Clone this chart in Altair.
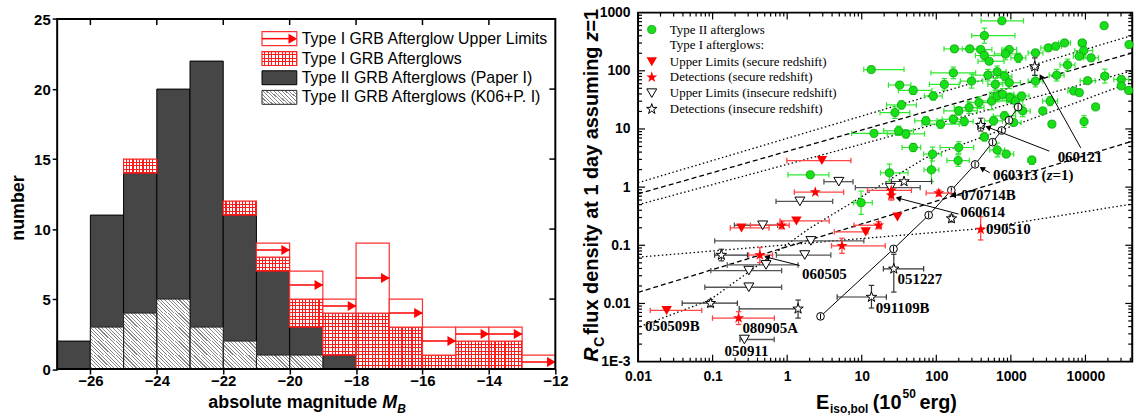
import altair as alt
import pandas as pd

SANS = "Liberation Sans"
SERIF = "Liberation Serif"
RED = "#ff0000"

# ======================= LEFT PANEL DATA =======================
bin_lo = [-27, -26, -25, -24, -23, -22, -21, -20, -19, -18, -17, -16, -15, -14, -13]
paper1_counts = [2, 11, 14, 20, 22, 11, 7, 3, 1, 0, 0, 0, 0, 0, 0]
k06_counts = [0, 3, 4, 5, 3, 2, 1, 1, 0, 0, 0, 0, 0, 0, 0]
type1_counts = [0, 0, 1, 0, 0, 1, 1, 2, 3, 4, 3, 1, 2, 2, 0]
type1_ul_counts = [0, 0, 0, 0, 0, 0, 1, 2, 1, 5, 2, 2, 1, 1, 1]
left_xdomain = [-27, -12]
left_ydomain = [0, 25]
left_xticks = [-26, -24, -22, -20, -18, -16, -14, -12]
left_yticks = [0, 5, 10, 15, 20, 25]
left_legend = ["Type I GRB Afterglow Upper Limits", "Type I GRB Afterglows",
               "Type II GRB Afterglows (Paper I)", "Type II GRB Afterglows (K06+P. I)"]

# ======================= RIGHT PANEL DATA =======================
XMAX = 42400
# Type II afterglows (green): x, y, left/right x-error (dex), y-error (dex)
g_x = [758, 441, 17800, 13.4, 175, 281, 394, 441, 511, 949, 849, 1260, 2140, 3170, 3980, 5250,
       9050, 9480, 11900, 8280, 38400, 18200, 30200, 30200, 38000, 2140, 4110, 5750, 10700, 169,
       297, 493, 655, 820, 949, 618, 128, 32.2, 49, 91, 34.1, 27.9, 200, 275, 373, 552, 655, 775,
       971, 1150, 1390, 1440, 3360, 6980, 8280, 13700, 2680, 72.6, 114, 169, 237, 14.6, 31.2, 39.1,
       585, 1090, 3550, 9580, 441, 820, 49, 200, 89, 655, 867, 1910, 196, 23.5, 86, 2.04, 9.8]
g_y = [724, 402, 596, 105, 238, 238, 232, 183, 146, 232, 195, 167, 203, 247, 264, 301,
       301, 222, 167, 178, 282, 81, 71, 55, 46, 66.5, 84, 126, 67.5, 92,
       66.5, 84, 96, 81, 62.4, 58.4, 58.4, 56.9, 46, 36.9, 25.9, 19.1, 20.4, 23.3, 28.4, 30.2, 36.9, 39.4,
       34.5, 30.2, 36.9, 20.4, 30.2, 44.9, 42.1, 23.9, 20.4, 13.8, 12.1, 14.7, 13.4, 8.4, 9.3, 8.2,
       13.8, 12.9, 12.1, 13.4, 7.3, 16.8, 4.8, 4.8, 3.7, 4.35, 3.7, 2.9, 2.86, 1.76, 1.98, 1.63, 0.54]
g_xl = [.28, .17, 0, .1, .14, .1, .15, .12, .15, .1, .15, .1, .1, .1, .08, .08,
        .05, .12, .1, .08, 0, .05, .1, 0, 0, .1, .1, .1, .1, .3,
        .15, .2, .12, .1, .15, .1, .2, .15, .2, .12, .2, .2, .2, .2, .15, .2, .1, .15,
        .15, .1, .1, .1, .1, .08, 0, 0, 0, .15, .25, .15, .12, .3, .2, .25,
        .12, .1, 0, 0, .05, .15, .15, .25, .12, .1, .1, .05, .15, .12, .1, .3, .1]
g_xr = [.29, .41, 0, .44, .16, .1, .15, .25, .2, .1, .15, .1, .1, .12, .08, .08,
        .05, .12, .1, .08, 0, .05, .1, 0, 0, .1, .1, .1, .1, .3,
        .15, .2, .12, .1, .15, .1, .2, .15, .25, .12, .2, .2, .25, .2, .15, .2, .1, .15,
        .15, .1, .1, .1, .1, .08, 0, 0, 0, .15, .25, .15, .12, .3, .2, .25,
        .12, .1, 0, 0, .05, .15, .1, .2, .12, .1, .1, .05, .15, .25, .1, .25, .15]
g_ye = [0, .13, 0, 0, .05, 0, .05, .08, 0, .05, .1, .08, .05, 0, 0, 0,
        .05, .08, .05, 0, 0, .12, .05, 0, 0, .1, .1, .1, 0, .1,
        .12, .1, .1, .08, .1, .1, .1, .05, .07, .07, .07, .1, .07, .1, .1, .15, .1, .1,
        .08, .1, .05, .1, .08, .05, 0, 0, 0, .07, .07, .07, .07, .05, .08, .07,
        .07, .05, 0, .1, .07, .07, .07, .1, .12, .12, .05, .07, .1, .15, .2, .05, .2]

# Type I, upper limits, secure redshift (filled red triangles)
uls_x = [2.92, 0.244, 1.33, 11.3, 30.1, 0.0242]
uls_y = [2.86, 0.199, 0.262, 0.170, 0.307, 0.0076]
uls_xl = [.47, .15, .22, .42, 0, .22]
uls_xr = [.39, .37, .44, .03, 0, .47]

# Type I, detections, secure redshift (filled red stars)
dets_x = [2.38, 24.9, 24.9, 108, 16.8, 0.845, 5.43, 0.43, 0.223, 394]
dets_y = [0.82, 0.877, 0.72, 0.79, 0.221, 0.221, 0.098, 0.068, 0.0056, 0.187]
dets_xl = [.28, .32, 0, .17, .33, .42, .14, .15, .35, 0]
dets_xr = [.38, .27, 0, .17, .04, .1, .58, .17, .48, 0]
dets_yd = [0, .1, .08, .05, .06, .06, .13, .13, .11, .18]
dets_yu = [0, .1, .08, .05, .06, .06, .13, .13, .11, .22]

# Type I, upper limits, insecure redshift (open triangles)
uli_x = [4.93, 1.48, 0.47, 2.08, 1.72, 0.52, 0.306, 0.306, 0.267, 24.2]
uli_y = [1.24, 0.569, 0.221, 0.119, 0.068, 0.046, 0.0367, 0.019, 0.0024, 0.98]
uli_xl = [.2, .32, .38, 1.29, .38, .52, .51, .59, .06, .47]
uli_xr = [.19, .44, .2, .71, .35, .43, .44, .44, .4, .4]

# Type I, detections, insecure redshift (open stars)
deti_x = [36.9, 394, 2090, 160, 26.9, 13.5, 1.40, 0.0937, 0.131]
deti_y = [1.25, 11.6, 118, 0.288, 0.0394, 0.0129, 0.0081, 0.0101, 0.068]
deti_xl = [.17, .04, .05, .03, .14, .46, .79, .38, .09]
deti_xr = [.37, .05, .05, .03, .4, .2, 0, .36, .35]
deti_yd = [0, .1, .15, .06, .4, .19, .16, .06, .1]
deti_yu = [0, .12, .15, .06, .25, .2, .15, .06, .1]

# model track with open circles (solid line)
mod_x = [2.8, 26.7, 79, 159, 331, 569, 753, 943, 1250]
mod_y = [0.0060, 0.0867, 0.33, 0.885, 2.46, 5.93, 9.4, 14.1, 23.8]

# reference lines
lineA_x, lineA_y = [0.01, 45000], [1.19, 415]          # dotted
lineB_x, lineB_y = [0.01, 45000], [0.766, 207]         # dashed
lineC_x, lineC_y = [0.01, 45000], [0.497, 102]         # dotted
lineD_x, lineD_y = [0.0106, 0.091, 1.96, 71, 45000], [0.004, 0.0114, 0.193, 3.16, 66]  # dotted
lineE_x, lineE_y = [0.01, 386, 45000], [0.0624, 0.193, 0.52]   # dotted
lineF_x, lineF_y = [0.01, 45000], [0.0155, 6.3]         # dashed

# annotation labels
lab_text = ["060121", "070714B", "060614", "090510", "060505", "051227", "091109B",
            "050509B", "080905A", "050911"]
lab_x = [4240, 215, 209, 464, 1.585, 30.2, 15.4, 0.0124, 0.251, 0.1445]
lab_y = [3.28, 0.728, 0.366, 0.19, 0.0324, 0.026, 0.00828, 0.00407, 0.00381, 0.00154]
lab313_x, lab313_y = 575, 1.62

# arrows: start -> end, head angle
arr_x0 = [8650, 3280, 520, 215, 199, 1.47]
arr_y0 = [4.73, 4.16, 1.77, 0.728, 0.344, 0.045]
arr_x1 = [2535, 493, 410, 169, 31, 0.534]
arr_y1 = [79.6, 10.7, 2.1, 0.728, 0.645, 0.0624]
arr_ang = [331, 291, 303, 270, 285, 284]

right_legend = ["Type II afterglows", "Type I afterglows:", "Upper Limits (secure redshift)",
                "Detections (secure redshift)", "Upper Limits (insecure redshift)",
                "Detections (insecure redshift)"]

dec_x = [0.01, 0.1, 1, 10, 100, 1000, 10000]
dec_y = [0.001, 0.01, 0.1, 1, 10, 100, 1000]

# ======================= HELPERS =======================
def stripe_grad(n, w, bg, fg, x1, y1, x2, y2):
    stops = []
    for i in range(n):
        a, b = i / n, (i + 1) / n
        m = b - w / n
        stops += [dict(offset=a, color=bg), dict(offset=m, color=bg),
                  dict(offset=m, color=fg), dict(offset=b, color=fg)]
    return dict(gradient="linear", x1=x1, y1=y1, x2=x2, y2=y2, stops=stops)

GRID_V = stripe_grad(10, 0.32, "#ffffff", "#ff1a1a", 0, 0, 1, 0)
GRID_H = stripe_grad(4, 0.28, "rgba(255,255,255,0)", "#ff1a1a", 0, 0, 0, 1)
HATCH = stripe_grad(13, 0.3, "#ffffff", "#858585", 0, 1, 1.207, 0.491)
DARK = "#464646"
STAR = ("M0,-1L0.2245,-0.309L0.951,-0.309L0.363,0.118L0.588,0.809L0,0.382"
        "L-0.588,0.809L-0.363,0.118L-0.951,-0.309L-0.2245,-0.309Z")
dummy = pd.DataFrame({"a": [0]})

# ======================= LEFT PANEL =======================
# the left frame sits TOP px lower than the right one: the view is taller and
# the frame is drawn as a mark over the [0, 25] range
LW, FRAME_H, TOP = 501, 352, 6.5
LH = FRAME_H + TOP
lx = alt.Scale(domain=left_xdomain, nice=False, zero=False)
ly = alt.Scale(domain=[left_ydomain[0], left_ydomain[1] * LH / FRAME_H], nice=False, zero=False)
ax_common = dict(title=None, grid=False, domain=False, tickColor="black", tickWidth=1.5,
                 labelFont=SANS, labelFontWeight="bold", labelColor="black", labelFlush=False)
ax_lx = alt.Axis(values=left_xticks, tickSize=5, labelFontSize=15, labelPadding=0, **ax_common)
ax_ly = alt.Axis(values=left_yticks, tickSize=5, labelFontSize=15, labelPadding=2, **ax_common)


def LX(f):
    return alt.X(f"{f}:Q", scale=lx, axis=ax_lx)


def LY(f):
    return alt.Y(f"{f}:Q", scale=ly, axis=ax_ly)


bins = pd.DataFrame(dict(x0=bin_lo, p1=paper1_counts, k06=k06_counts,
                         t1=type1_counts, ul=type1_ul_counts))
bins["x1"] = bins.x0 + 1
bins["zero"] = 0
bins["t1_lo"] = bins.p1
bins["t1_hi"] = bins.p1 + bins.t1
bins["ul_hi"] = bins.t1_hi + bins.ul
bins["arr_y"] = bins.t1_hi + bins.ul / 2

red_cells = pd.DataFrame([dict(x0=r.x0, x1=r.x1, y0=r.p1 + k, y1=r.p1 + k + 1)
                          for r in bins.itertuples() for k in range(r.t1)])
light_cells = pd.DataFrame([dict(x0=r.x0, x1=r.x1, y0=k, y1=k + 1)
                            for r in bins.itertuples() for k in range(r.k06)])
frame = pd.DataFrame(dict(x0=[left_xdomain[0]], x1=[left_xdomain[1]],
                          y0=[left_ydomain[0]], y1=[left_ydomain[1]]))

L = []
L.append(alt.Chart(bins[bins.p1 > 0]).mark_rect(fill=DARK, stroke="black", strokeWidth=1)
         .encode(x=LX("x0"), x2="x1", y=LY("zero"), y2="p1"))
L.append(alt.Chart(light_cells).mark_rect(fill=HATCH, strokeWidth=0)
         .encode(x=LX("x0"), x2="x1", y=LY("y0"), y2="y1"))
L.append(alt.Chart(bins[bins.k06 > 0]).mark_rect(fillOpacity=0, stroke="#222222", strokeWidth=1)
         .encode(x=LX("x0"), x2="x1", y=LY("zero"), y2="k06"))
L.append(alt.Chart(red_cells).mark_rect(fill=GRID_V, strokeWidth=0)
         .encode(x=LX("x0"), x2="x1", y=LY("y0"), y2="y1"))
L.append(alt.Chart(red_cells).mark_rect(fill=GRID_H, strokeWidth=0)
         .encode(x=LX("x0"), x2="x1", y=LY("y0"), y2="y1"))
L.append(alt.Chart(bins[bins.t1 > 0]).mark_rect(fillOpacity=0, stroke="#ff2020", strokeWidth=1.2)
         .encode(x=LX("x0"), x2="x1", y=LY("t1_lo"), y2="t1_hi"))
L.append(alt.Chart(bins[bins.ul > 0]).mark_rect(fill="white", stroke="#ff3030", strokeWidth=1.2)
         .encode(x=LX("x0"), x2="x1", y=LY("t1_hi"), y2="ul_hi"))
L.append(alt.Chart(bins[bins.ul > 0]).mark_rule(color=RED, strokeWidth=1.5)
         .encode(x=LX("x0"), x2="x1", y=LY("arr_y")))
L.append(alt.Chart(bins[bins.ul > 0]).mark_point(shape="triangle-right", filled=True, color=RED,
                                                  size=100, opacity=1, xOffset=-4)
         .encode(x=LX("x1"), y=LY("arr_y")))
# frame and mirrored inward ticks (top / right)
L.append(alt.Chart(frame).mark_rect(fillOpacity=0, stroke="black", strokeWidth=2)
         .encode(x=LX("x0"), x2="x1", y=LY("y0"), y2="y1"))
L.append(alt.Chart(pd.DataFrame({"v": left_xticks[:-1]})).mark_rule(color="black", strokeWidth=1.5)
         .encode(x=LX("v"), y=alt.value(TOP), y2=alt.value(TOP + 6)))
L.append(alt.Chart(pd.DataFrame({"v": left_yticks[1:-1]})).mark_rule(color="black", strokeWidth=1.5)
         .encode(y=LY("v"), x=alt.value(LW), x2=alt.value(LW - 6)))

# legend (left)
bx0, bx1 = 206, 241
leg_yc = [TOP + 19.7, TOP + 39.7, TOP + 59.0, TOP + 78.7]
c = leg_yc[0]
L.append(alt.Chart(dummy).mark_rect(fill="white", stroke="#ff3030", strokeWidth=1.2)
         .encode(x=alt.value(bx0), x2=alt.value(bx1), y=alt.value(c - 7), y2=alt.value(c + 7)))
L.append(alt.Chart(dummy).mark_rule(color=RED, strokeWidth=1.5)
         .encode(x=alt.value(bx0), x2=alt.value(bx1 - 4), y=alt.value(c)))
L.append(alt.Chart(dummy).mark_point(shape="triangle-right", filled=True, color=RED, size=100, opacity=1)
         .encode(x=alt.value(bx1 - 4), y=alt.value(c)))
c = leg_yc[1]
for f in (GRID_V, GRID_H):
    L.append(alt.Chart(dummy).mark_rect(fill=f, strokeWidth=0)
             .encode(x=alt.value(bx0), x2=alt.value(bx1), y=alt.value(c - 7), y2=alt.value(c + 7)))
L.append(alt.Chart(dummy).mark_rect(fillOpacity=0, stroke="#ff2020", strokeWidth=1.2)
         .encode(x=alt.value(bx0), x2=alt.value(bx1), y=alt.value(c - 7), y2=alt.value(c + 7)))
c = leg_yc[2]
L.append(alt.Chart(dummy).mark_rect(fill=DARK, stroke="black", strokeWidth=1)
         .encode(x=alt.value(bx0), x2=alt.value(bx1), y=alt.value(c - 7), y2=alt.value(c + 7)))
c = leg_yc[3]
L.append(alt.Chart(dummy).mark_rect(fill=HATCH, stroke="#222222", strokeWidth=1)
         .encode(x=alt.value(bx0), x2=alt.value(bx1), y=alt.value(c - 7), y2=alt.value(c + 7)))
for txt, yc in zip(left_legend, leg_yc):
    L.append(alt.Chart(dummy).mark_text(font=SANS, fontSize=16, align="left", baseline="middle", color="black")
             .encode(x=alt.value(bx1 + 5), y=alt.value(yc), text=alt.value(txt)))

# titles (left)
L.append(alt.Chart(dummy).mark_text(font=SANS, fontSize=18, fontWeight="bold", angle=270,
                                     align="center", baseline="alphabetic", color="black")
         .encode(x=alt.value(-33), y=alt.value(TOP + 190), text=alt.value("number")))
L.append(alt.Chart(dummy).mark_text(font=SANS, fontSize=18, fontWeight="bold", align="left",
                                     baseline="alphabetic", color="black")
         .encode(x=alt.value(152), y=alt.value(TOP + 391), text=alt.value("absolute magnitude")))
L.append(alt.Chart(dummy).mark_text(font=SANS, fontSize=18, fontWeight="bold", fontStyle="italic",
                                     align="left", baseline="alphabetic", color="black")
         .encode(x=alt.value(327), y=alt.value(TOP + 391), text=alt.value("M")))
L.append(alt.Chart(dummy).mark_text(font=SANS, fontSize=12, fontWeight="bold", fontStyle="italic",
                                     align="left", baseline="alphabetic", color="black")
         .encode(x=alt.value(342), y=alt.value(TOP + 396), text=alt.value("B")))

left = alt.layer(*L).properties(width=LW, height=LH,
                                view=alt.ViewBackground(strokeOpacity=0))

# ======================= RIGHT PANEL =======================
RW, RH = 497, 351
xs = alt.Scale(type="log", domain=[0.01, XMAX], nice=False)
ys = alt.Scale(type="log", domain=[0.001, 1000], nice=False)
ax_rx = alt.Axis(values=dec_x, ticks=False, labelFontSize=14, labelPadding=8,
                 labelExpr="format(datum.value, '~g')", **ax_common)
ax_ry = alt.Axis(values=dec_y, ticks=False, labelFontSize=14, labelPadding=8,
                 labelExpr="datum.value == 0.001 ? '1E-3' : format(datum.value, '~g')", **ax_common)


def RX(f):
    return alt.X(f"{f}:Q", scale=xs, axis=ax_rx)


def RY(f):
    return alt.Y(f"{f}:Q", scale=ys, axis=ax_ry)


def pts(x, y, xl, xr, yd, yu):
    d = pd.DataFrame(dict(x=x, y=y, xl=xl, xr=xr, yd=yd, yu=yu))
    d["xlo"] = d.x * 10 ** (-d.xl)
    d["xhi"] = d.x * 10 ** d.xr
    d["ylo"] = d.y * 10 ** (-d.yd)
    d["yhi"] = d.y * 10 ** d.yu
    return d


def errbars(d, color, w=1.0, cap=30):
    out = []
    hx = d[(d.xl > 0) | (d.xr > 0)]
    if len(hx):
        out.append(alt.Chart(hx).mark_rule(color=color, strokeWidth=w)
                   .encode(x=RX("xlo"), x2="xhi", y=RY("y")))
    vy = d[(d.yd > 0) | (d.yu > 0)]
    if len(vy):
        out.append(alt.Chart(vy).mark_rule(color=color, strokeWidth=w)
                   .encode(x=RX("x"), y=RY("ylo"), y2="yhi"))
    cv = pd.concat([pd.DataFrame({"cx": d.xlo[d.xl > 0], "cy": d.y[d.xl > 0]}),
                    pd.DataFrame({"cx": d.xhi[d.xr > 0], "cy": d.y[d.xr > 0]})])
    if len(cv):
        out.append(alt.Chart(cv).mark_point(shape="stroke", angle=90, size=cap, color=color,
                                            strokeWidth=w, opacity=1)
                   .encode(x=RX("cx"), y=RY("cy")))
    ch = pd.concat([pd.DataFrame({"cx": d.x[d.yd > 0], "cy": d.ylo[d.yd > 0]}),
                    pd.DataFrame({"cx": d.x[d.yu > 0], "cy": d.yhi[d.yu > 0]})])
    if len(ch):
        out.append(alt.Chart(ch).mark_point(shape="stroke", angle=0, size=cap, color=color,
                                            strokeWidth=w, opacity=1)
                   .encode(x=RX("cx"), y=RY("cy")))
    return out


R = []
# inward ticks on all four sides
minor_x = [m * d for d in dec_x for m in range(2, 10) if m * d <= XMAX]
minor_y = [m * d for d in dec_y[:-1] for m in range(2, 10)]
tx_major = pd.DataFrame({"v": dec_x[1:]})
tx_minor = pd.DataFrame({"v": minor_x})
ty_major = pd.DataFrame({"v": dec_y[1:-1]})
ty_minor = pd.DataFrame({"v": minor_y})
for df, ln in ((tx_major, 7), (tx_minor, 4)):
    R.append(alt.Chart(df).mark_rule(color="black", strokeWidth=1.2)
             .encode(x=RX("v"), y=alt.value(RH), y2=alt.value(RH - ln)))
    R.append(alt.Chart(df).mark_rule(color="black", strokeWidth=1.2)
             .encode(x=RX("v"), y=alt.value(0), y2=alt.value(ln)))
for df, ln in ((ty_major, 7), (ty_minor, 4)):
    R.append(alt.Chart(df).mark_rule(color="black", strokeWidth=1.2)
             .encode(y=RY("v"), x=alt.value(0), x2=alt.value(ln)))
    R.append(alt.Chart(df).mark_rule(color="black", strokeWidth=1.2)
             .encode(y=RY("v"), x=alt.value(RW), x2=alt.value(RW - ln)))

# reference lines
DOT = [1.5, 2.5]
DASH = [5, 3]
for lxv, lyv, dash in ((lineA_x, lineA_y, DOT), (lineB_x, lineB_y, DASH), (lineC_x, lineC_y, DOT),
                       (lineD_x, lineD_y, DOT), (lineE_x, lineE_y, DOT), (lineF_x, lineF_y, DASH)):
    R.append(alt.Chart(pd.DataFrame({"x": lxv, "y": lyv})).mark_line(color="black", strokeWidth=1.3,
                                                                    strokeDash=dash, clip=True)
             .encode(x=RX("x"), y=RY("y")))

# green points
gdf = pts(g_x, g_y, g_xl, g_xr, g_ye, g_ye)
R += errbars(gdf, "#2ee82e", 1.2)
R.append(alt.Chart(gdf).mark_point(shape="circle", filled=True, fill="#18e018", stroke="#0c9c0c",
                                   strokeWidth=0.8, size=68, opacity=1)
         .encode(x=RX("x"), y=RY("y")))

# model track
mdf = pd.DataFrame({"x": mod_x, "y": mod_y})
R.append(alt.Chart(mdf).mark_line(color="black", strokeWidth=1).encode(x=RX("x"), y=RY("y")))
mdf2 = pts(mod_x, mod_y, [0] * len(mod_x), [0] * len(mod_x), [0.05] * len(mod_x), [0.05] * len(mod_x))
R += errbars(mdf2, "black", 1.0, cap=16)
R.append(alt.Chart(mdf).mark_point(shape="circle", filled=True, fill="white", stroke="black",
                                   strokeWidth=1, size=60, opacity=1)
         .encode(x=RX("x"), y=RY("y")))
R.append(alt.Chart(mdf2).mark_rule(color="black", strokeWidth=1)
         .encode(x=RX("x"), y=RY("ylo"), y2="yhi"))

# Type I points
uls = pts(uls_x, uls_y, uls_xl, uls_xr, [0] * 6, [0] * 6)
dets = pts(dets_x, dets_y, dets_xl, dets_xr, dets_yd, dets_yu)
uli = pts(uli_x, uli_y, uli_xl, uli_xr, [0] * len(uli_x), [0] * len(uli_x))
deti = pts(deti_x, deti_y, deti_xl, deti_xr, deti_yd, deti_yu)
R += errbars(uli, "#555555", 1.3)
R += errbars(deti, "#333333", 1.2)
R += errbars(uls, "#ff4545", 1.3)
R += errbars(dets, "#ff4545", 1.3)
R.append(alt.Chart(uli).mark_point(shape="triangle-down", filled=True, fill="white", stroke="black",
                                   strokeWidth=1, size=100, opacity=1).encode(x=RX("x"), y=RY("y")))
R.append(alt.Chart(deti).mark_point(shape=STAR, filled=True, fill="white", stroke="black",
                                    strokeWidth=1, size=120, opacity=1).encode(x=RX("x"), y=RY("y")))
R.append(alt.Chart(uls).mark_point(shape="triangle-down", filled=True, color=RED, size=110, opacity=1)
         .encode(x=RX("x"), y=RY("y")))
R.append(alt.Chart(dets).mark_point(shape=STAR, filled=True, color=RED, size=140, opacity=1)
         .encode(x=RX("x"), y=RY("y")))

# arrows
adf = pd.DataFrame(dict(x0=arr_x0, y0=arr_y0, x1=arr_x1, y1=arr_y1, ang=arr_ang))
R.append(alt.Chart(adf).mark_rule(color="black", strokeWidth=1)
         .encode(x=RX("x0"), x2="x1", y=RY("y0"), y2="y1"))
R.append(alt.Chart(adf).mark_point(shape="triangle-up", filled=True, color="black", size=40, opacity=1)
         .encode(x=RX("x1"), y=RY("y1"), angle=alt.Angle("ang:Q", scale=None)))

# annotation labels
ldf = pd.DataFrame(dict(t=lab_text, x=lab_x, y=lab_y))
R.append(alt.Chart(ldf).mark_text(font=SERIF, fontWeight="bold", fontSize=15, align="left",
                                   baseline="middle", color="black")
         .encode(x=RX("x"), y=RY("y"), text="t:N"))
l313 = pd.DataFrame(dict(x=[lab313_x], y=[lab313_y]))
for piece, dxp, sty in (("060313 (", 0, "normal"), ("z", 54, "italic"), ("=1)", 60, "normal")):
    R.append(alt.Chart(l313).mark_text(font=SERIF, fontWeight="bold", fontStyle=sty, fontSize=15,
                                       align="left", baseline="middle", dx=dxp, color="black")
             .encode(x=RX("x"), y=RY("y"), text=alt.value(piece)))

# legend (right)
rl_y = [17, 32.6, 49.3, 65, 81, 97]
mk_x = 13.8
R.append(alt.Chart(dummy).mark_point(shape="circle", filled=True, fill="#18e018", stroke="#0c9c0c",
                                     strokeWidth=0.8, size=68, opacity=1)
         .encode(x=alt.value(mk_x), y=alt.value(rl_y[0])))
R.append(alt.Chart(dummy).mark_point(shape="triangle-down", filled=True, color=RED, size=110, opacity=1)
         .encode(x=alt.value(mk_x), y=alt.value(rl_y[2])))
R.append(alt.Chart(dummy).mark_point(shape=STAR, filled=True, color=RED, size=140, opacity=1)
         .encode(x=alt.value(mk_x), y=alt.value(rl_y[3])))
R.append(alt.Chart(dummy).mark_point(shape="triangle-down", filled=True, fill="white", stroke="black",
                                     strokeWidth=1, size=100, opacity=1)
         .encode(x=alt.value(mk_x), y=alt.value(rl_y[4])))
R.append(alt.Chart(dummy).mark_point(shape=STAR, filled=True, fill="white", stroke="black",
                                     strokeWidth=1, size=120, opacity=1)
         .encode(x=alt.value(mk_x), y=alt.value(rl_y[5])))
for txt, yc in zip(right_legend, rl_y):
    R.append(alt.Chart(dummy).mark_text(font=SERIF, fontSize=13, align="left", baseline="middle",
                                         color="black")
             .encode(x=alt.value(32), y=alt.value(yc), text=alt.value(txt)))

# titles (right)
def rtext(txt, x, y, size, style="normal", angle=0):
    return (alt.Chart(dummy).mark_text(font=SANS, fontSize=size, fontWeight="bold", fontStyle=style,
                                       angle=angle, align="left", baseline="alphabetic", color="black")
            .encode(x=alt.value(x), y=alt.value(y), text=alt.value(txt)))

R.append(rtext("R", -40, 351, 20, "italic", 270))
R.append(rtext("C", -34, 336, 14, "normal", 270))
R.append(rtext("flux density at 1 day assuming", -40, 324, 20, "normal", 270))
R.append(rtext("z", -40, 29, 20, "italic", 270))
R.append(rtext("=1", -40, 19, 20, "normal", 270))
R.append(rtext("E", 179, 398.5, 20))
R.append(rtext("iso,bol", 193, 403, 12))
R.append(rtext("(10", 236, 398.5, 20))
R.append(rtext("50", 266, 387.5, 12))
R.append(rtext("erg)", 283, 398.5, 20))

right = alt.layer(*R).properties(width=RW, height=RH)

chart = (alt.hconcat(left, right, spacing=12.2)
         .properties(padding={"left": 10.5, "top": 3.5, "right": 0, "bottom": 0})
         .configure(background="white")
         .configure_view(stroke="black", strokeWidth=2))

chart.save("out.html", embed_options={"renderer": "svg", "actions": False})
